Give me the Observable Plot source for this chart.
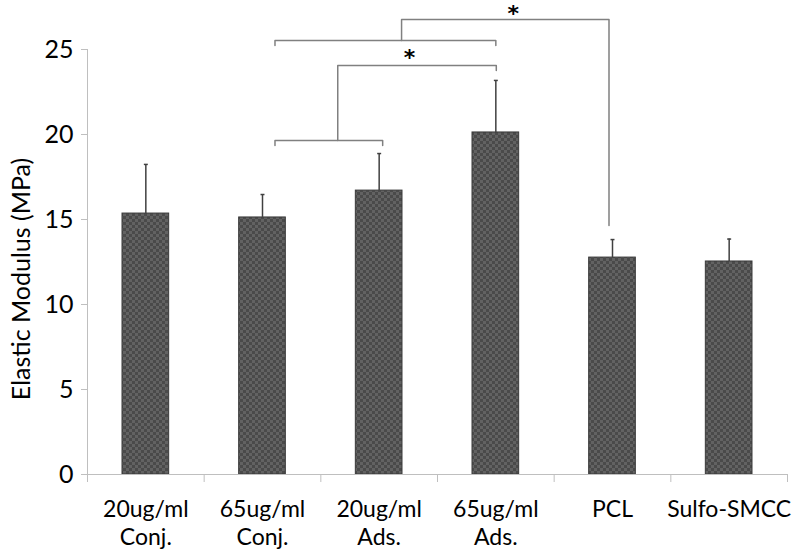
<!DOCTYPE html>
<html><head><meta charset="utf-8">
<script src="https://cdn.jsdelivr.net/npm/d3@7"></script>
<script src="https://cdn.jsdelivr.net/npm/@observablehq/plot@0.6"></script>
<style>body{margin:0;background:#fff;font-family:Lato,sans-serif}</style>
</head><body><div id="chart"></div>
<script>
const categories = ["20ug/ml\nConj.", "65ug/ml\nConj.", "20ug/ml\nAds.", "65ug/ml\nAds.", "PCL", "Sulfo-SMCC"];
const means = [15.35, 15.12, 16.7, 20.12, 12.76, 12.53];
const upperErrors = [18.24, 16.47, 18.88, 23.18, 13.82, 13.85];
const yTicks = [0, 5, 10, 15, 20, 25];
const yLabel = "Elastic Modulus (MPa)";
// significance brackets (x in category-index units, y in MPa)
const bracketId = [1,1,1,1, 2,2,2,2, 3,3,3,3, 4,4,4,4];
const bracketX = [2.192,2.192,3.97,3.97, 1.107,1.107,3.0,3.0, 1.645,1.645,3.004,3.004, 1.107,1.107,2.03,2.03];
const bracketY = [25.53,26.76,26.76,14.65, 25.24,25.53,25.53,25.24, 19.65,24.06,24.06,23.76, 19.35,19.65,19.65,19.35];
const starX = [3.15, 2.26];
const starY = [27.08, 24.49];
const starText = ["*", "*"];

const bars = categories.map((c, i) => ({i, c, v: means[i], e: upperErrors[i]}));
const brackets = bracketId.map((id, k) => ({id, x: bracketX[k], y: bracketY[k]}));
const stars = starX.map((x, k) => ({x, y: starY[k], t: starText[k]}));
const boundaries = d3.range(-0.5, categories.length, 1);

const chart = Plot.plot({
  width: 792, height: 552,
  marginLeft: 87, marginRight: 5, marginTop: 49, marginBottom: 78,
  style: {fontFamily: "Lato, sans-serif", fontSize: "22px", background: "#fff"},
  x: {domain: [-0.5, categories.length - 0.5], axis: null},
  y: {domain: [0, 25], axis: null},
  marks: [
    Plot.rectY(bars, {x1: d => d.i - 0.2, x2: d => d.i + 0.2, y1: 0, y2: "v", fill: "url(#chk)", stroke: "#3a3a3a", strokeWidth: 1}),
    Plot.ruleX(bars, {x: "i", y1: "v", y2: "e", stroke: "#404040", strokeWidth: 1.5}),
    Plot.link(bars, {x1: d => d.i - 0.017, x2: d => d.i + 0.017, y1: "e", y2: "e", stroke: "#404040", strokeWidth: 1.5}),
    Plot.line(brackets, {x: "x", y: "y", z: "id", stroke: "#808080", strokeWidth: 1.5, curve: "linear"}),
    Plot.text(stars, {x: "x", y: "y", text: "t", fontSize: 22, fontWeight: "bold", fontFamily: "DejaVu Sans", fill: "#000"}),
    Plot.ruleX([-0.5], {y1: 0, y2: 25, stroke: "#bfbfbf", strokeWidth: 1}),
    Plot.ruleY([0], {x1: -0.5, x2: categories.length - 0.5, stroke: "#bfbfbf", strokeWidth: 1}),
    Plot.axisY({ticks: yTicks, tickSize: 6, tickPadding: 8, stroke: "#bfbfbf", fill: "#000", fontSize: 25, label: null}),
    Plot.axisX({ticks: boundaries, tickSize: 8, tickFormat: () => "", stroke: "#bfbfbf", label: null}),
    Plot.axisX({ticks: d3.range(categories.length), tickSize: 0, tickPadding: 23, tickFormat: i => categories[i], fill: "#000", fontSize: 23, lineHeight: 1.2, label: null}),
    Plot.text([yLabel], {x: -0.5, y: 11.5, rotate: -90, dx: -66, textAnchor: "middle", fontSize: 25, fill: "#000"})
  ]
});

const defs = d3.select(chart).insert("defs", ":first-child");
const p = defs.append("pattern").attr("id", "chk").attr("width", 6).attr("height", 6).attr("patternUnits", "userSpaceOnUse");
p.append("rect").attr("width", 6).attr("height", 6).attr("fill", "#4a4a4a");
p.append("rect").attr("width", 3).attr("height", 3).attr("fill", "#626262");
p.append("rect").attr("x", 3).attr("y", 3).attr("width", 3).attr("height", 3).attr("fill", "#626262");
document.getElementById("chart").appendChild(chart);
</script>
</body></html>
